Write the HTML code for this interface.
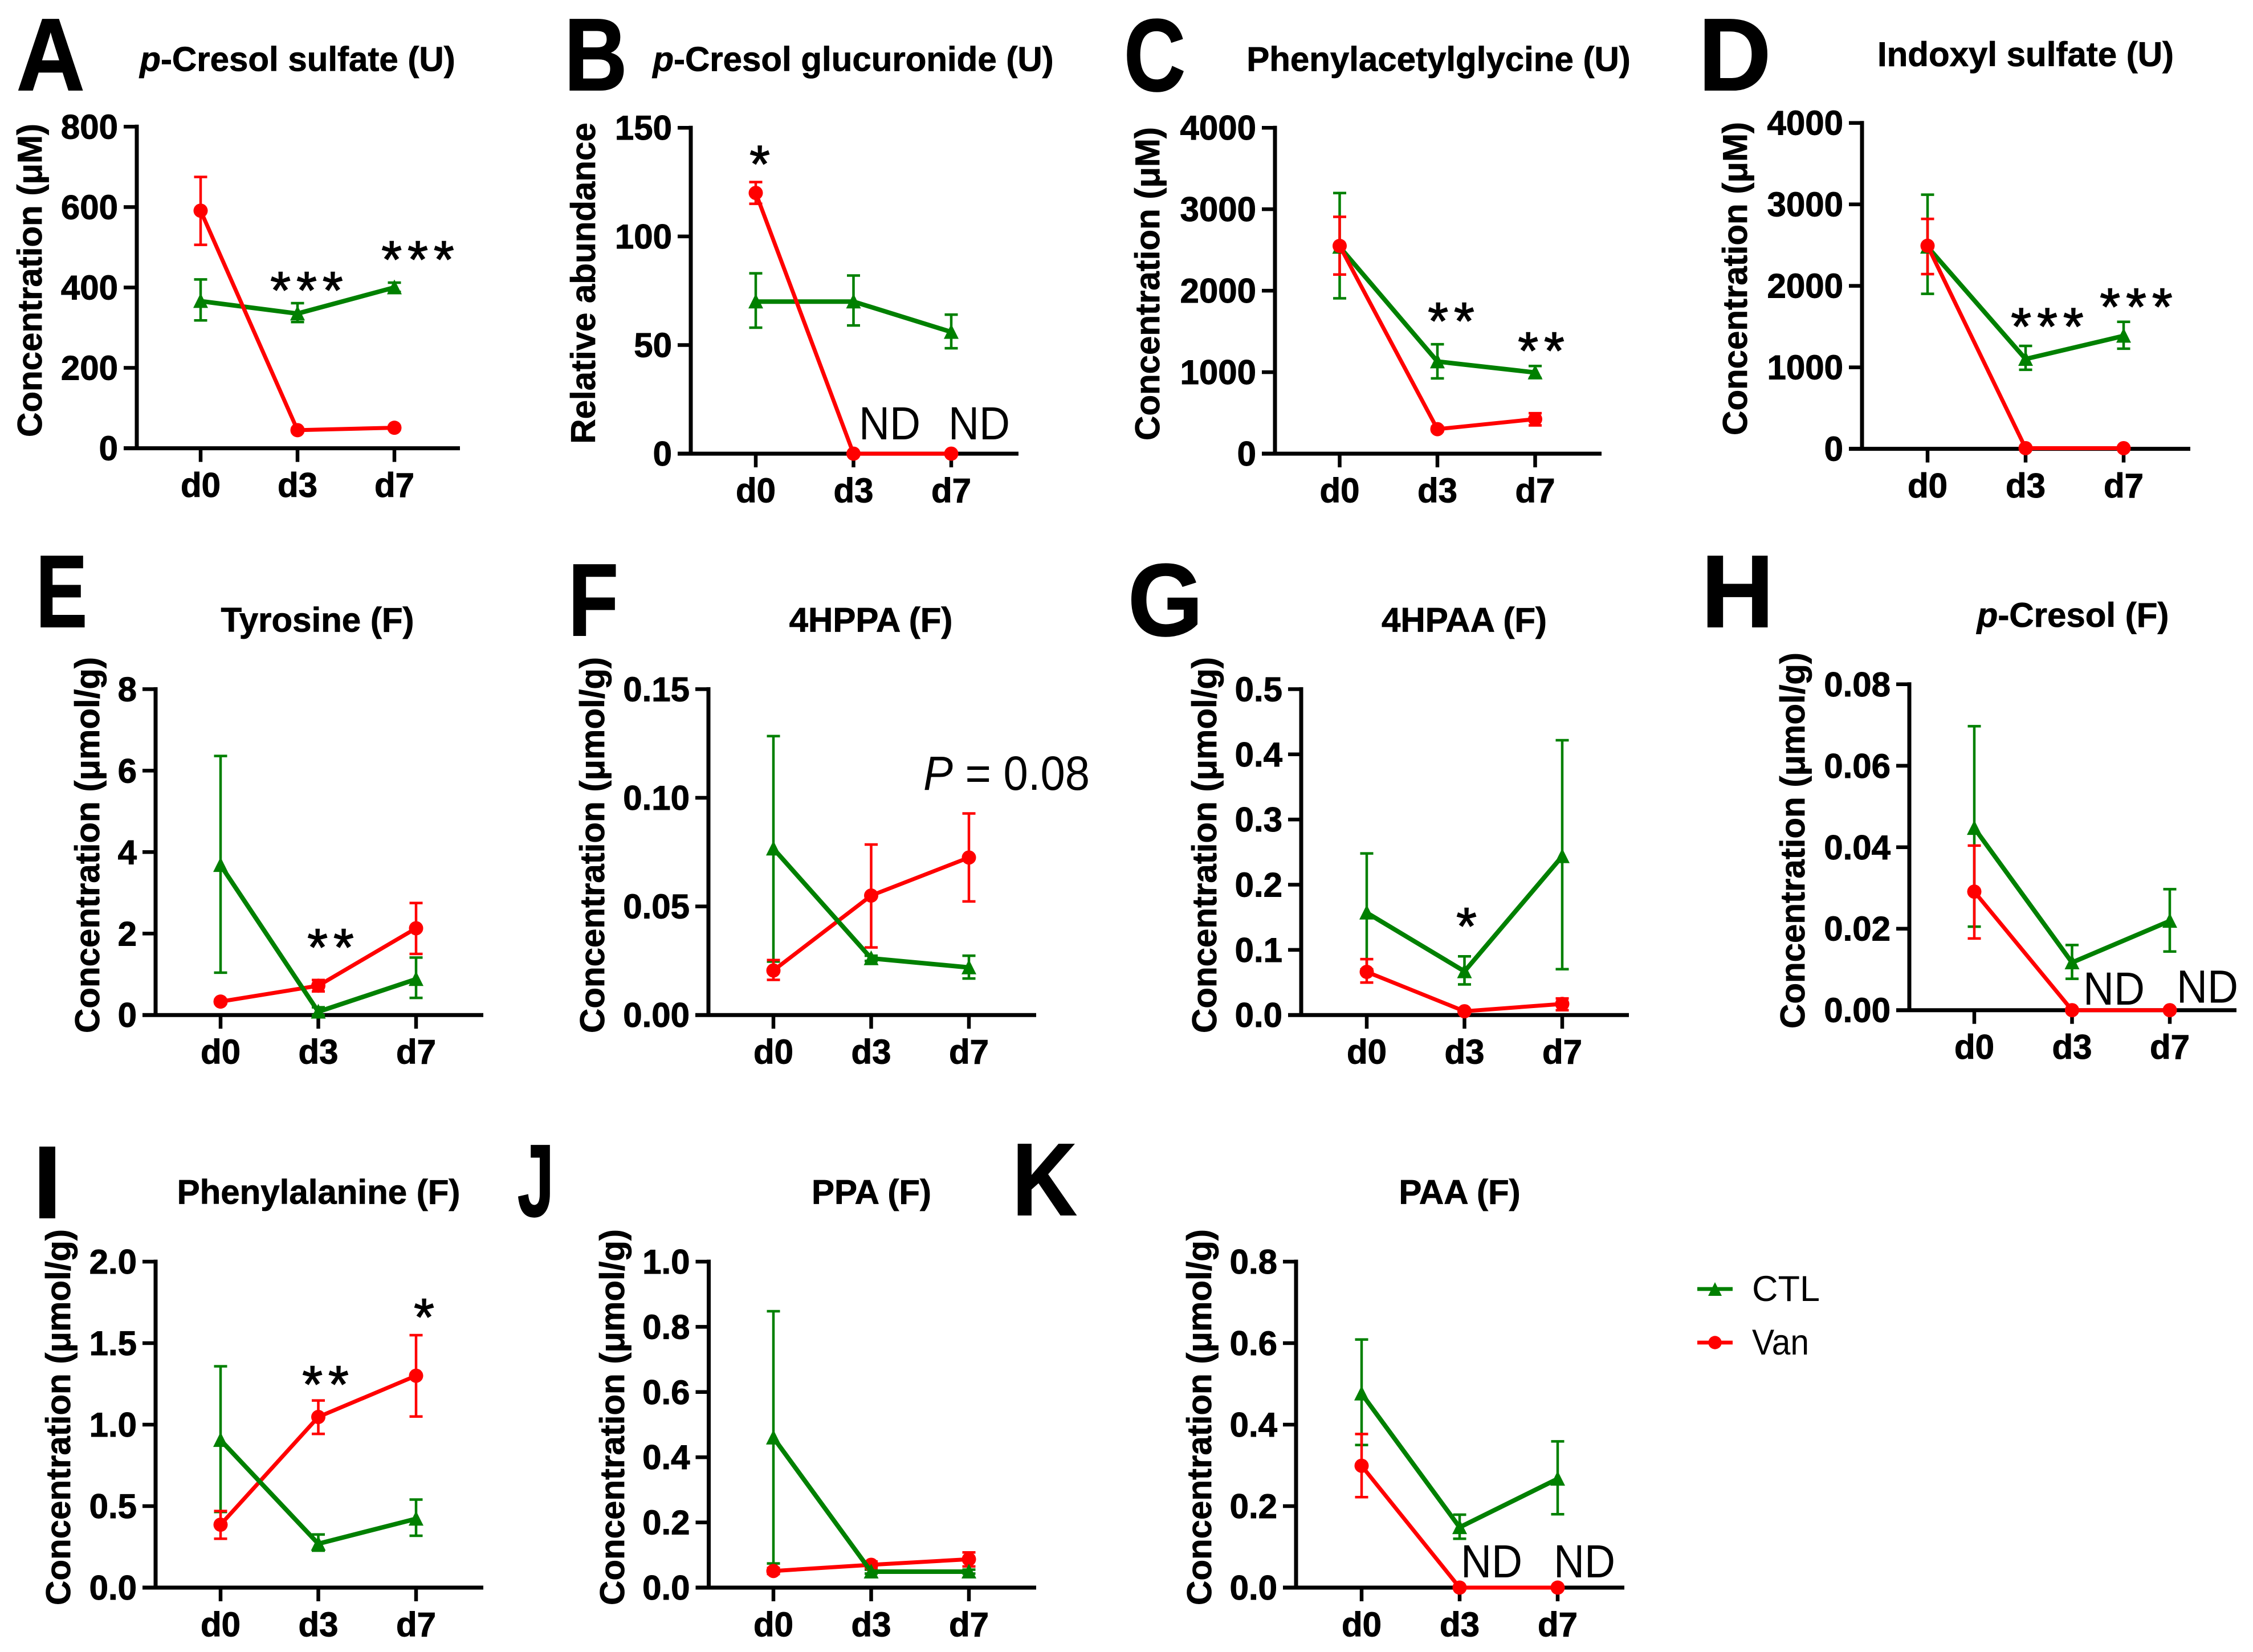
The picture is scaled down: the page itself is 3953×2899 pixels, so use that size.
<!DOCTYPE html>
<html lang="en">
<head>
<meta charset="utf-8">
<title>Metabolite concentrations, CTL vs Van</title>
<style>
html,body{margin:0;padding:0;background:#fff;}
svg{display:block;}
text{font-family:"Liberation Sans",sans-serif;fill:#000;}
.panel-letter{font-size:180px;font-weight:700;stroke:#000;stroke-width:2px;}
.title{font-size:60px;font-weight:700;text-anchor:middle;stroke:#000;stroke-width:.8px;}
.ytitle{font-size:60px;font-weight:700;text-anchor:middle;stroke:#000;stroke-width:.8px;}
.stars{font-size:92px;text-anchor:middle;letter-spacing:10px;stroke:#000;stroke-width:1.5px;}
.nd{font-size:82px;}
.legend-text{font-size:63px;}
.tick{font-size:60px;font-weight:700;stroke:#000;stroke-width:1px;}
</style>
</head>
<body>
<svg id="figure" xmlns="http://www.w3.org/2000/svg" width="3953" height="2899" viewBox="0 0 3953 2899">
<rect x="0" y="0" width="3953" height="2899" fill="#fff"/>
<g id="charts"></g>

<g>
<text class="panel-letter" transform="translate(29,158) scale(.92,1)">A</text>
<text class="panel-letter" transform="translate(990,158) scale(.85,1)">B</text>
<text class="panel-letter" transform="translate(1972,159) scale(.83,1)">C</text>
<text class="panel-letter" transform="translate(2980,158) scale(.98,1)">D</text>
<text class="panel-letter" transform="translate(63,1100) scale(.75,1)">E</text>
<text class="panel-letter" transform="translate(997,1115) scale(.8,1)">F</text>
<text class="panel-letter" transform="translate(1979,1115) scale(.94,1)">G</text>
<text class="panel-letter" transform="translate(2985,1100) scale(.98,1)">H</text>
<text class="panel-letter" transform="translate(58,2137) scale(1,1)">I</text>
<text class="panel-letter" transform="translate(908,2134) scale(.64,1)">J</text>
<text class="panel-letter" transform="translate(1776,2132) scale(.87,1)">K</text>
</g>

<g>
<text class="title" x="522" y="124.5"><tspan font-style="italic">p</tspan>-Cresol sulfate (U)</text>
<text class="title" x="1497" y="124.5"><tspan font-style="italic">p</tspan>-Cresol glucuronide (U)</text>
<text class="title" x="2524" y="124.5">Phenylacetylglycine (U)</text>
<text class="title" x="3554" y="116">Indoxyl sulfate (U)</text>
<text class="title" x="557" y="1108.7">Tyrosine (F)</text>
<text class="title" x="1528" y="1108.7">4HPPA (F)</text>
<text class="title" x="2569" y="1108.7">4HPAA (F)</text>
<text class="title" x="3637" y="1100"><tspan font-style="italic">p</tspan>-Cresol (F)</text>
<text class="title" x="559" y="2112.4">Phenylalanine (F)</text>
<text class="title" x="1529" y="2112.4">PPA (F)</text>
<text class="title" x="2561" y="2112.4">PAA (F)</text>
</g>

<g>
<text class="ytitle" transform="translate(73,492) rotate(-90)">Concentration (μM)</text>
<text class="ytitle" transform="translate(1044,497) rotate(-90)">Relative abundance</text>
<text class="ytitle" transform="translate(2034,498) rotate(-90)">Concentration (μM)</text>
<text class="ytitle" transform="translate(3065,489) rotate(-90)">Concentration (μM)</text>
<text class="ytitle" transform="translate(174,1483) rotate(-90)">Concentration (μmol/g)</text>
<text class="ytitle" transform="translate(1060,1483) rotate(-90)">Concentration (μmol/g)</text>
<text class="ytitle" transform="translate(2134,1483) rotate(-90)">Concentration (μmol/g)</text>
<text class="ytitle" transform="translate(3166,1475) rotate(-90)">Concentration (μmol/g)</text>
<text class="ytitle" transform="translate(123,2487) rotate(-90)">Concentration (μmol/g)</text>
<text class="ytitle" transform="translate(1095,2487) rotate(-90)">Concentration (μmol/g)</text>
<text class="ytitle" transform="translate(2125,2487) rotate(-90)">Concentration (μmol/g)</text>
</g>

<g>
<text class="stars" x="543" y="541">***</text>
<text class="stars" x="738" y="487">***</text>
<text class="stars" x="1338" y="319.5">*</text>
<text class="stars" x="2551" y="595">**</text>
<text class="stars" x="2709" y="647">**</text>
<text class="stars" x="3597" y="604.5">***</text>
<text class="stars" x="3753" y="570">***</text>
<text class="stars" x="585" y="1694">**</text>
<text class="stars" x="2578" y="1657">*</text>
<text class="stars" x="576" y="2461">**</text>
<text class="stars" x="749" y="2343">*</text>
<text class="nd" x="1507" y="771" textLength="108" lengthAdjust="spacingAndGlyphs">ND</text>
<text class="nd" x="1664" y="771" textLength="108" lengthAdjust="spacingAndGlyphs">ND</text>
<text class="nd" x="3655" y="1763" textLength="108" lengthAdjust="spacingAndGlyphs">ND</text>
<text class="nd" x="3819" y="1759.5" textLength="108" lengthAdjust="spacingAndGlyphs">ND</text>
<text class="nd" x="2563" y="2768" textLength="108" lengthAdjust="spacingAndGlyphs">ND</text>
<text class="nd" x="2726" y="2768" textLength="108" lengthAdjust="spacingAndGlyphs">ND</text>
<text x="1620" y="1386" font-size="84" textLength="292" lengthAdjust="spacingAndGlyphs"><tspan font-style="italic">P</tspan> = 0.08</text>
</g>

<g>
<g>
<line x1="2978" y1="2262" x2="3040" y2="2262" stroke="#008000" stroke-width="6.7"/>
<polygon points="3009,2250 3021,2274 2997,2274" fill="#008000"/>
<text class="legend-text" x="3074" y="2283">CTL</text>
</g>
<g>
<line x1="2978" y1="2356" x2="3040" y2="2356" stroke="#ff0000" stroke-width="6.7"/>
<circle cx="3009" cy="2356" r="11.7" fill="#ff0000"/>
<text class="legend-text" x="3074" y="2377" textLength="100" lengthAdjust="spacingAndGlyphs">Van</text>
</g>
</g>
</svg>

<script>
// ---- Shared categories ----
const categories = ['d0', 'd3', 'd7'];

// ---- Panel A: p-Cresol sulfate (U) ----
const ticksA = ['0', '200', '400', '600', '800'];
const ctlA = [366, 335, 400];
const ctlAUpper = [420, 361, 412];
const ctlALower = [318, 314, 389];
const vanA = [591, 45, 51];
const vanAUpper = [675, 50, 56];
const vanALower = [506, 40, 46];

// ---- Panel B: p-Cresol glucuronide (U) ----
const ticksB = ['0', '50', '100', '150'];
const ctlB = [70, 70, 56];
const ctlBUpper = [83, 82, 64];
const ctlBLower = [58, 59, 48.5];
const vanB = [120, 0, 0];
const vanBUpper = [125, 0, 0];
const vanBLower = [115, 0, 0];

// ---- Panel C: Phenylacetylglycine (U) ----
const ticksC = ['0', '1000', '2000', '3000', '4000'];
const ctlC = [2538, 1131, 996];
const ctlCUpper = [3199, 1343, 1076];
const ctlCLower = [1907, 924, 928];
const vanC = [2550, 301, 424];
const vanCUpper = [2907, 330, 496];
const vanCLower = [2199, 275, 347];

// ---- Panel D: Indoxyl sulfate (U) ----
const ticksD = ['0', '1000', '2000', '3000', '4000'];
const ctlD = [2479, 1102, 1386];
const ctlDUpper = [3119, 1263, 1559];
const ctlDLower = [1902, 970, 1229];
const vanD = [2492, 8, 8];
const vanDUpper = [2822, 10, 10];
const vanDLower = [2144, 6, 6];

// ---- Panel E: Tyrosine (F) ----
const ticksE = ['0', '2', '4', '6', '8'];
const ctlE = [3.68, 0.08, 0.88];
const ctlEUpper = [6.36, 0.19, 1.41];
const ctlELower = [1.04, 0, 0.42];
const vanE = [0.33, 0.72, 2.13];
const vanEUpper = [0.38, 0.86, 2.75];
const vanELower = [0.28, 0.58, 1.5];

// ---- Panel F: 4HPPA (F) ----
const ticksF = ['0.00', '0.05', '0.10', '0.15'];
const ctlF = [0.0766, 0.0261, 0.0219];
const ctlFUpper = [0.1284, 0.0273, 0.0273];
const ctlFLower = [0.0246, 0.0249, 0.0168];
const vanF = [0.0205, 0.055, 0.0725];
const vanFUpper = [0.0253, 0.0785, 0.0928];
const vanFLower = [0.0162, 0.0311, 0.0523];

// ---- Panel G: 4HPAA (F) ----
const ticksG = ['0.0', '0.1', '0.2', '0.3', '0.4', '0.5'];
const ctlG = [0.157, 0.067, 0.2436];
const ctlGUpper = [0.248, 0.09, 0.4216];
const ctlGLower = [0.07, 0.047, 0.0704];
const vanG = [0.0662, 0.0058, 0.017];
const vanGUpper = [0.0858, 0.0079, 0.0254];
const vanGLower = [0.0498, 0.0037, 0.0074];

// ---- Panel H: p-Cresol (F) ----
const ticksH = ['0.00', '0.02', '0.04', '0.06', '0.08'];
const ctlH = [0.0447, 0.0117, 0.0219];
const ctlHUpper = [0.0697, 0.016, 0.0297];
const ctlHLower = [0.0205, 0.0077, 0.0144];
const vanH = [0.0291, 0, 0];
const vanHUpper = [0.0404, 0, 0];
const vanHLower = [0.0176, 0, 0];

// ---- Panel I: Phenylalanine (F) ----
const ticksI = ['0.0', '0.5', '1.0', '1.5', '2.0'];
const ctlI = [0.905, 0.269, 0.422];
const ctlIUpper = [1.358, 0.326, 0.54];
const ctlILower = [0.464, 0.227, 0.318];
const vanI = [0.386, 1.047, 1.3];
const vanIUpper = [0.47, 1.148, 1.549];
const vanILower = [0.3, 0.943, 1.05];

// ---- Panel J: PPA (F) ----
const ticksJ = ['0.0', '0.2', '0.4', '0.6', '0.8', '1.0'];
const ctlJ = [0.46, 0.049, 0.049];
const ctlJUpper = [0.848, 0.055, 0.055];
const ctlJLower = [0.074, 0.043, 0.043];
const vanJ = [0.051, 0.07, 0.087];
const vanJUpper = [0.06, 0.08, 0.108];
const vanJLower = [0.042, 0.06, 0.065];

// ---- Panel K: PAA (F) ----
const ticksK = ['0.0', '0.2', '0.4', '0.6', '0.8'];
const ctlK = [0.476, 0.148, 0.267];
const ctlKUpper = [0.609, 0.179, 0.359];
const ctlKLower = [0.35, 0.12, 0.18];
const vanK = [0.299, 0, 0];
const vanKUpper = [0.377, 0, 0];
const vanKLower = [0.222, 0, 0];

// ---- Rendering ----
const SVGNS = 'http://www.w3.org/2000/svg';
const GREEN = '#008000';
const RED = '#ff0000';

function make(tag, parent) {
  const el = document.createElementNS(SVGNS, tag);
  parent.appendChild(el);
  return el;
}

function setAll(el, props) {
  Object.keys(props).forEach(function (k) { el.setAttribute(k, props[k]); });
}

function drawAxes(g, box, ticks, xScale, yScale) {
  const axis = make('path', g);
  
  
  setAll(axis, {
    d: 'M' + box.axisX + ' ' + (box.top - 3.5) + 'V' + box.base +
       'M' + (box.axisX - 23) + ' ' + box.base + 'H' + box.xEnd,
    fill: 'none', stroke: '#000', 'stroke-width': 7
  });
  ticks.forEach(function (label) {
    const y = yScale(Number(label));
    const tick = make('line', g);
    
    
    setAll(tick, { x1: box.axisX - 23, x2: box.axisX, y1: y, y2: y, stroke: '#000', 'stroke-width': 6.5 });
    const text = make('text', g);
    
    
    setAll(text, { 'class': 'tick', x: box.axisX - 33, y: y + 21, 'text-anchor': 'end' });
    text.textContent = label;
  });
  categories.forEach(function (label, i) {
    const x = xScale(i);
    const tick = make('line', g);
    
    
    setAll(tick, { x1: x, x2: x, y1: box.base, y2: box.base + 24, stroke: '#000', 'stroke-width': 6.5 });
    const text = make('text', g);
    
    
    setAll(text, { 'class': 'tick', x: x, y: box.base + 85.5, 'text-anchor': 'middle' });
    text.textContent = label;
  });
}

function drawErrors(g, color, upper, lower, xScale, yScale) {
  upper.forEach(function (u, i) {
    const x = xScale(i);
    const yU = yScale(u);
    const yL = yScale(lower[i]);
    const err = make('path', g);
    
    
    setAll(err, {
      d: 'M' + (x - 11.5) + ' ' + yU + 'H' + (x + 11.5) + 'M' + x + ' ' + yU + 'V' + yL +
         'M' + (x - 11.5) + ' ' + yL + 'H' + (x + 11.5),
      fill: 'none', stroke: color, 'stroke-width': 4.5
    });
  });
}

function drawLine(g, color, width, values, xScale, yScale) {
  const line = make('polyline', g);
  
  
  setAll(line, {
    points: values.map(function (v, i) { return xScale(i) + ',' + yScale(v); }).join(' '),
    fill: 'none', stroke: color, 'stroke-width': width
  });
}

function drawCtl(g, values, xScale, yScale) {
  drawLine(g, GREEN, 8, values, xScale, yScale);
  values.forEach(function (v, i) {
    const x = xScale(i);
    const y = yScale(v);
    const mark = make('polygon', g);
    
    
    setAll(mark, {
      points: x + ',' + (y - 14) + ' ' + (x + 13) + ',' + (y + 12) + ' ' + (x - 13) + ',' + (y + 12),
      fill: GREEN
    });
  });
}

function drawVan(g, values, xScale, yScale) {
  drawLine(g, RED, 7, values, xScale, yScale);
  values.forEach(function (v, i) {
    const mark = make('circle', g);
    
    
    setAll(mark, { cx: xScale(i), cy: yScale(v), r: 12.5, fill: RED });
  });
}

function drawPanel(p) {
  const root = document.getElementById('charts');
  const g = make('g', root);
  
  
  const yMax = Number(p.ticks[p.ticks.length - 1]);
  const yScale = function (v) { return p.box.base - (v / yMax) * (p.box.base - p.box.top); };
  const xScale = function (i) { return p.box.x0 + i * p.box.step; };
  drawAxes(g, p.box, p.ticks, xScale, yScale);
  drawErrors(g, GREEN, p.ctlUpper, p.ctlLower, xScale, yScale);
  drawErrors(g, RED, p.vanUpper, p.vanLower, xScale, yScale);
  if (p.box.redOnTop) {
    drawCtl(g, p.ctl, xScale, yScale);
    drawVan(g, p.van, xScale, yScale);
  } else {
    drawVan(g, p.van, xScale, yScale);
    drawCtl(g, p.ctl, xScale, yScale);
  }
}

drawPanel({ id: 'a', ticks: ticksA, ctl: ctlA, ctlUpper: ctlAUpper, ctlLower: ctlALower, van: vanA, vanUpper: vanAUpper, vanLower: vanALower,
  box: { axisX: 240, top: 222.3, base: 786.6, xEnd: 807, x0: 352, step: 170, redOnTop: true } });
drawPanel({ id: 'b', ticks: ticksB, ctl: ctlB, ctlUpper: ctlBUpper, ctlLower: ctlBLower, van: vanB, vanUpper: vanBUpper, vanLower: vanBLower,
  box: { axisX: 1212, top: 224.2, base: 796.1, xEnd: 1787, x0: 1326, step: 171.5, redOnTop: true } });
drawPanel({ id: 'c', ticks: ticksC, ctl: ctlC, ctlUpper: ctlCUpper, ctlLower: ctlCLower, van: vanC, vanUpper: vanCUpper, vanLower: vanCLower,
  box: { axisX: 2237, top: 224.2, base: 796.1, xEnd: 2810, x0: 2350.5, step: 171.5, redOnTop: true } });
drawPanel({ id: 'd', ticks: ticksD, ctl: ctlD, ctlUpper: ctlDUpper, ctlLower: ctlDLower, van: vanD, vanUpper: vanDUpper, vanLower: vanDLower,
  box: { axisX: 3267, top: 215.7, base: 787.6, xEnd: 3843, x0: 3382, step: 172, redOnTop: true } });
drawPanel({ id: 'e', ticks: ticksE, ctl: ctlE, ctlUpper: ctlEUpper, ctlLower: ctlELower, van: vanE, vanUpper: vanEUpper, vanLower: vanELower,
  box: { axisX: 273, top: 1209.4, base: 1781.2, xEnd: 848, x0: 387, step: 171.5, redOnTop: false } });
drawPanel({ id: 'f', ticks: ticksF, ctl: ctlF, ctlUpper: ctlFUpper, ctlLower: ctlFLower, van: vanF, vanUpper: vanFUpper, vanLower: vanFLower,
  box: { axisX: 1243, top: 1209.4, base: 1781.2, xEnd: 1818, x0: 1357, step: 171.5, redOnTop: false } });
drawPanel({ id: 'g', ticks: ticksG, ctl: ctlG, ctlUpper: ctlGUpper, ctlLower: ctlGLower, van: vanG, vanUpper: vanGUpper, vanLower: vanGLower,
  box: { axisX: 2283, top: 1209.4, base: 1781.2, xEnd: 2858, x0: 2398, step: 171.5, redOnTop: false } });
drawPanel({ id: 'h', ticks: ticksH, ctl: ctlH, ctlUpper: ctlHUpper, ctlLower: ctlHLower, van: vanH, vanUpper: vanHUpper, vanLower: vanHLower,
  box: { axisX: 3350, top: 1200.8, base: 1772.7, xEnd: 3924, x0: 3464, step: 171.5, redOnTop: false } });
drawPanel({ id: 'i', ticks: ticksI, ctl: ctlI, ctlUpper: ctlIUpper, ctlLower: ctlILower, van: vanI, vanUpper: vanIUpper, vanLower: vanILower,
  box: { axisX: 273, top: 2214, base: 2786, xEnd: 848, x0: 387, step: 171.5, redOnTop: false } });
drawPanel({ id: 'j', ticks: ticksJ, ctl: ctlJ, ctlUpper: ctlJUpper, ctlLower: ctlJLower, van: vanJ, vanUpper: vanJUpper, vanLower: vanJLower,
  box: { axisX: 1243.5, top: 2214, base: 2786, xEnd: 1818, x0: 1357, step: 171.5, redOnTop: false } });
drawPanel({ id: 'k', ticks: ticksK, ctl: ctlK, ctlUpper: ctlKUpper, ctlLower: ctlKLower, van: vanK, vanUpper: vanKUpper, vanLower: vanKLower,
  box: { axisX: 2274, top: 2214, base: 2786, xEnd: 2850, x0: 2389, step: 172, redOnTop: false } });
</script>
</body>
</html>
